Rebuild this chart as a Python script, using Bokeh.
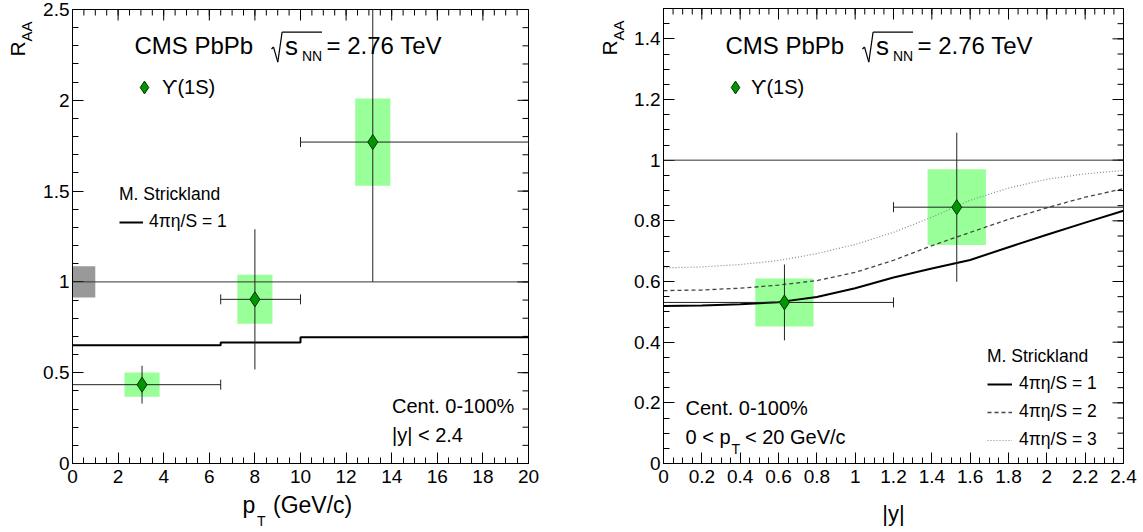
import math
from bokeh.plotting import figure
from bokeh.models import (Span, Label, Arrow, FixedTicker, Range1d, Legend, LegendItem)
from bokeh.layouts import row, column
from bokeh.embed import file_html
from bokeh.resources import INLINE

FONT = "Liberation Sans"

# ---------------- data: left panel, R_AA vs pT ----------------
pt_center = [3.05, 8.0, 13.17]
pt_low = [0.0, 6.5, 10.0]
pt_high = [6.5, 10.0, 20.0]
raa_pt = [0.434, 0.904, 1.77]
raa_pt_stat = [0.104, 0.386, 0.77]
raa_pt_syst = [0.067, 0.135, 0.24]
global_unc = 0.086
strick_pt_edges = [0.0, 6.5, 10.0, 20.0]
strick_pt_vals = [0.651, 0.666, 0.695]

# ---------------- data: right panel, R_AA vs |y| ----------------
y_center = [0.631, 1.53]
y_low = [0.0, 1.2]
y_high = [1.2, 2.4]
raa_y = [0.531, 0.845]
raa_y_stat = [0.125, 0.246]
raa_y_syst = [0.079, 0.125]
strick_rap = [0.0, 0.2, 0.4, 0.6, 0.8, 1.0, 1.2, 1.4, 1.6, 1.8, 2.0, 2.2, 2.4]
strick_eta1 = [0.519, 0.521, 0.525, 0.532, 0.549, 0.578, 0.613, 0.643, 0.671, 0.713, 0.754, 0.794, 0.833]
strick_eta2 = [0.570, 0.572, 0.578, 0.588, 0.603, 0.630, 0.670, 0.718, 0.762, 0.805, 0.843, 0.878, 0.906]
strick_eta3 = [0.645, 0.648, 0.656, 0.669, 0.692, 0.722, 0.762, 0.812, 0.868, 0.908, 0.937, 0.955, 0.966]

# ---------------- ticks ----------------
pt_ticks = [0, 2, 4, 6, 8, 10, 12, 14, 16, 18, 20]
pt_tick_labels = ["0", "2", "4", "6", "8", "10", "12", "14", "16", "18", "20"]
raa1_ticks = [0, 0.5, 1, 1.5, 2, 2.5]
raa1_tick_labels = ["0", "0.5", "1", "1.5", "2", "2.5"]
rap_ticks = [0, 0.2, 0.4, 0.6, 0.8, 1, 1.2, 1.4, 1.6, 1.8, 2, 2.2, 2.4]
rap_tick_labels = ["0", "0.2", "0.4", "0.6", "0.8", "1", "1.2", "1.4", "1.6", "1.8", "2", "2.2", "2.4"]
raa2_ticks = [0, 0.2, 0.4, 0.6, 0.8, 1, 1.2, 1.4]
raa2_tick_labels = ["0", "0.2", "0.4", "0.6", "0.8", "1", "1.2", "1.4"]

pt_minor = [i * 0.5 for i in range(41)]
raa1_minor = [i * 0.1 for i in range(26)]
rap_minor = [i * 0.05 for i in range(49)]
raa2_minor = [i * 0.05 for i in range(31)]

BOX_COLOR = "#99ff99"
MARK_COLOR = "#009600"
BAR_COLOR = "#222222"
MAJOR_LEN, MINOR_LEN = 11, 6


def make_conv(fl, fr, fb, ft, xr, yr):
    def conv(px, py):
        x = xr[0] + (px - fl) / (fr - fl) * (xr[1] - xr[0])
        y = yr[0] + (fb - py) / (fb - ft) * (yr[1] - yr[0])
        return x, y
    return conv


def txt(p, conv, px, py, text, size, align="left", angle=0.0):
    # (px, py): left end (or centre) of the text, at the vertical middle of its glyphs
    x, y = conv(px, py)
    p.add_layout(Label(x=x, y=y, text=text, text_font=FONT, text_font_size=size,
                       text_align=align, text_baseline="middle", angle=angle,
                       text_color="black"))


def strokes(p, conv, pts, width=1.2):
    for (ax, ay), (bx, by) in zip(pts[:-1], pts[1:]):
        x0, y0 = conv(ax, ay)
        x1, y1 = conv(bx, by)
        p.add_layout(Arrow(start=None, end=None, x_start=x0, y_start=y0, x_end=x1,
                           y_end=y1, line_color="black", line_width=width))


def style_axis(ax, ticks, minor, labels, standoff):
    ax.ticker = FixedTicker(ticks=ticks, minor_ticks=minor)
    ax.major_tick_in = MAJOR_LEN
    ax.major_tick_out = 0
    ax.minor_tick_in = MINOR_LEN
    ax.minor_tick_out = 0
    ax.axis_line_color = "black"
    ax.major_tick_line_color = "black"
    ax.minor_tick_line_color = "black"
    ax.major_label_overrides = dict(zip(ticks, labels))
    ax.major_label_text_font = FONT
    ax.major_label_text_font_size = "19px"
    ax.major_label_text_color = "black"
    ax.major_label_standoff = standoff


def mirror_ticks(p, xr, yr, xt, xm, yt, ym):
    # ROOT-style ticks on the top and right frame edges (half of each dash is
    # clipped away by the frame, leaving an inward tick)
    for ticks, ln in ((xt, MAJOR_LEN), (xm, MINOR_LEN)):
        p.scatter(x=ticks, y=[yr[1]] * len(ticks), marker="dash", angle=math.pi / 2,
                  size=2 * ln, line_color="black", line_width=1)
    for ticks, ln in ((yt, MAJOR_LEN), (ym, MINOR_LEN)):
        p.scatter(x=[xr[1]] * len(ticks), y=ticks, marker="dash", angle=0,
                  size=2 * ln, line_color="black", line_width=1)


def make_fig(fw, fh, bl, br, bt, bb, xr, yr, xt, xm, xl, yt, ym, yl):
    p = figure(frame_width=fw, frame_height=fh, min_border_left=bl, min_border_right=br,
               min_border_top=bt, min_border_bottom=bb, x_range=Range1d(*xr),
               y_range=Range1d(*yr), output_backend="svg", toolbar_location=None)
    p.xgrid.visible = False
    p.ygrid.visible = False
    p.outline_line_color = "black"
    p.outline_line_width = 1
    p.background_fill_color = "white"
    p.border_fill_color = "white"
    style_axis(p.xaxis[0], xt, xm, xl, 6)
    style_axis(p.yaxis[0], yt, ym, yl, 3)
    mirror_ticks(p, xr, yr, xt, xm, yt, ym)
    return p


def text_fig(w, h):
    p = figure(frame_width=w, frame_height=h, min_border=0, x_range=Range1d(0, w),
               y_range=Range1d(0, h), x_axis_location=None, y_axis_location=None,
               output_backend="svg", toolbar_location=None)
    p.xgrid.visible = False
    p.ygrid.visible = False
    p.outline_line_color = None
    p.background_fill_color = "white"
    p.border_fill_color = "white"
    return p


def draw_boxes(p, xc, yc, syst, half_w):
    p.quad(left=[x - half_w for x in xc], right=[x + half_w for x in xc],
           bottom=[y - s for y, s in zip(yc, syst)], top=[y + s for y, s in zip(yc, syst)],
           fill_color=BOX_COLOR, line_color=None)


def draw_bars(p, xc, xlo, xhi, yc, stat):
    p.segment(x0=xlo, y0=yc, x1=xhi, y1=yc, line_color=BAR_COLOR, line_width=1)
    p.segment(x0=xc, y0=[y - s for y, s in zip(yc, stat)], x1=xc,
              y1=[y + s for y, s in zip(yc, stat)], line_color=BAR_COLOR, line_width=1)
    p.scatter(x=xlo + xhi, y=yc + yc, marker="dash", angle=math.pi / 2, size=10,
              line_color=BAR_COLOR, line_width=1)
    return p.scatter(x=xc, y=yc, marker="diamond", size=15, fill_color=MARK_COLOR,
                     line_color="#003300", line_width=1)


# page geometry (page origin is the top-left corner of the window)
YL1_W = 40
P1_BL, P1_FW, P1_BR = 32, 456, 32
P1_BT, P1_FH, P1_BB = 9, 454, 28
YL2_W = 68
P2_BL, P2_FW, P2_BR = 35, 460, 16
P2_BT, P2_FH, P2_BB = 8, 455, 28

L_FL = YL1_W + P1_BL
L_FR = L_FL + P1_FW
L_FT = P1_BT
L_FB = L_FT + P1_FH
P1_W = P1_BL + P1_FW + P1_BR
P1_H = P1_BT + P1_FH + P1_BB

R_X0 = YL1_W + P1_W
R_FL = R_X0 + YL2_W + P2_BL
R_FR = R_FL + P2_FW
R_FT = P2_BT
R_FB = R_FT + P2_FH
P2_W = P2_BL + P2_FW + P2_BR
P2_H = P2_BT + P2_FH + P2_BB

# ======================= LEFT PANEL =======================
p1 = make_fig(P1_FW, P1_FH, P1_BL, P1_BR, P1_BT, P1_BB, (0, 20), (0, 2.5),
              pt_ticks, pt_minor, pt_tick_labels, raa1_ticks, raa1_minor, raa1_tick_labels)
c1 = make_conv(L_FL, L_FR, L_FB, L_FT, (0, 20), (0, 2.5))

p1.quad(left=[0], right=[1], bottom=[1 - global_unc], top=[1 + global_unc],
        fill_color="#999999", line_color=None)
draw_boxes(p1, pt_center, raa_pt, raa_pt_syst, 0.77)
sx, sy = [], []
for i, v in enumerate(strick_pt_vals):
    sx += [strick_pt_edges[i], strick_pt_edges[i + 1]]
    sy += [v, v]
strick1 = p1.line(sx, sy, line_color="black", line_width=2)
p1.add_layout(Span(location=1, dimension="width", line_color="#333333", line_width=1))
diam1 = draw_bars(p1, pt_center, pt_low, pt_high, raa_pt, raa_pt_stat)

# ======================= RIGHT PANEL =======================
p2 = make_fig(P2_FW, P2_FH, P2_BL, P2_BR, P2_BT, P2_BB, (0, 2.4), (0, 1.5),
              rap_ticks, rap_minor, rap_tick_labels, raa2_ticks, raa2_minor, raa2_tick_labels)
c2 = make_conv(R_FL, R_FR, R_FB, R_FT, (0, 2.4), (0, 1.5))

draw_boxes(p2, y_center, raa_y, raa_y_syst, 0.152)
e3 = p2.line(strick_rap, strick_eta3, line_color="#888888", line_width=1.2, line_dash="1 2")
e2 = p2.line(strick_rap, strick_eta2, line_color="#444444", line_width=1.3, line_dash="4 3")
e1 = p2.line(strick_rap, strick_eta1, line_color="black", line_width=2)
p2.add_layout(Span(location=1, dimension="width", line_color="#333333", line_width=1))
diam2 = draw_bars(p2, y_center, y_low, y_high, raa_y, raa_y_stat)


# ======================= TEXTS inside frames =======================
def header(p, conv, fl):
    txt(p, conv, fl + 62, 45, "CMS PbPb", "24px")
    strokes(p, conv, [(fl + 199.0, 48.5), (fl + 201.0, 46.5), (fl + 205.3, 61.7),
                      (fl + 209.6, 31.7), (fl + 249.5, 31.7)])
    txt(p, conv, fl + 212.5, 45, "s", "26px")
    txt(p, conv, fl + 229.5, 55.5, "NN", "14px")
    txt(p, conv, fl + 254, 45, "= 2.76 TeV", "24px")


def legend(p, items, x, y, title=None, gw=25, gh=20, standoff=6, spacing=7,
           size="17.5px", title_standoff=6):
    lg = Legend(items=items, location=(x, y), padding=0, margin=0, spacing=spacing,
                glyph_width=gw, glyph_height=gh, label_height=gh, label_standoff=standoff,
                label_text_font=FONT, label_text_font_size=size, label_text_color="black",
                background_fill_alpha=0, border_line_color=None)
    if title:
        lg.title = title
        lg.title_text_font = FONT
        lg.title_text_font_size = size
        lg.title_text_font_style = "normal"
        lg.title_text_color = "black"
        lg.title_standoff = title_standoff
    p.add_layout(lg)


header(p1, c1, L_FL)
header(p2, c2, R_FL)

txt(p1, c1, 391.5, 405, "Cent. 0-100%", "20px")
txt(p1, c1, 391.5, 434, "|y| < 2.4", "20px")
txt(p2, c2, 685, 407, "Cent. 0-100%", "20px")
txt(p2, c2, 685, 436, "0 < p", "20px")
txt(p2, c2, 731, 448, "T", "14px")
txt(p2, c2, 744.5, 436, "< 20 GeV/c", "20px")

legend(p1, [LegendItem(label="\u03d2(1S)", renderers=[diam1])], 56, L_FB - 103, gw=32, gh=32,
       standoff=2, size="20px")
legend(p2, [LegendItem(label="\u03d2(1S)", renderers=[diam2])], 56, R_FB - 103, gw=32, gh=32,
       standoff=0, size="20px")
legend(p1, [LegendItem(label="4\u03c0\u03b7/S = 1", renderers=[strick1])], 47, L_FB - 232,
       title="M. Strickland", gw=24, standoff=6)
legend(p2, [LegendItem(label="4\u03c0\u03b7/S = 1", renderers=[e1]),
            LegendItem(label="4\u03c0\u03b7/S = 2", renderers=[e2]),
            LegendItem(label="4\u03c0\u03b7/S = 3", renderers=[e3])], 324, R_FB - 450,
       title="M. Strickland", gw=25, standoff=7)

# ======================= axis titles (own text canvases) =======================
yl1 = text_fig(YL1_W, P1_H)
cy1 = make_conv(0, YL1_W, P1_H, 0, (0, YL1_W), (0, P1_H))
txt(yl1, cy1, 16.5, 47, "R", "21px", angle=math.pi / 2)
txt(yl1, cy1, 26, 32, "AA", "15px", angle=math.pi / 2)

yl2 = text_fig(YL2_W, P2_H)
cy2 = make_conv(R_X0, R_X0 + YL2_W, P2_H, 0, (0, YL2_W), (0, P2_H))
txt(yl2, cy2, 608.5, 47, "R", "21px", angle=math.pi / 2)
txt(yl2, cy2, 618, 32, "AA", "15px", angle=math.pi / 2)

XL_H = 532 - max(P1_H, P2_H)
xl1 = text_fig(YL1_W + P1_W, XL_H)
cx1 = make_conv(0, YL1_W + P1_W, P1_H + XL_H, P1_H, (0, YL1_W + P1_W), (0, XL_H))
txt(xl1, cx1, 242, 504.5, "p", "23px")
txt(xl1, cx1, 256.5, 520.5, "T", "14px")
txt(xl1, cx1, 272.5, 504.5, "(GeV/c)", "23px")

xl2 = text_fig(YL2_W + P2_W, XL_H)
cx2 = make_conv(R_X0, R_X0 + YL2_W + P2_W, P2_H + XL_H, P2_H, (0, YL2_W + P2_W), (0, XL_H))
txt(xl2, cx2, 893, 512.5, "|y|", "22px", align="center")

layout = row(column(row(yl1, p1), xl1), column(row(yl2, p2), xl2))
open("out.html", "w").write(file_html(layout, INLINE))
